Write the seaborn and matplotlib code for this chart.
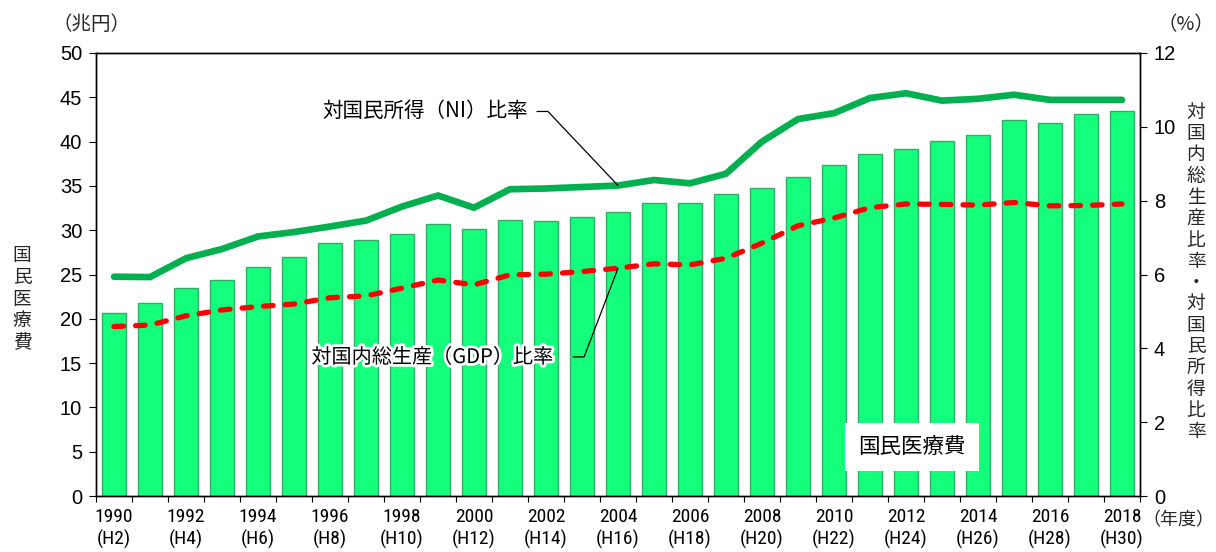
import numpy as np
import pandas as pd
import matplotlib
matplotlib.use("Agg")
import matplotlib.pyplot as plt
import seaborn as sns
from matplotlib import font_manager
import matplotlib.patheffects as pe

# ---------------- data ----------------
years = list(range(1990, 2019))
heisei = [f"(H{y - 1988})" for y in years]
medical_cost = [20.6, 21.8, 23.5, 24.4, 25.8, 27.0, 28.5, 28.9, 29.6, 30.7,
                30.1, 31.1, 31.0, 31.5, 32.1, 33.1, 33.1, 34.1, 34.8, 36.0,
                37.4, 38.6, 39.2, 40.1, 40.8, 42.4, 42.1, 43.1, 43.4]
ni_ratio = [5.94, 5.93, 6.44, 6.69, 7.03, 7.15, 7.30, 7.46, 7.84, 8.14,
            7.81, 8.31, 8.33, 8.37, 8.41, 8.56, 8.47, 8.73, 9.60, 10.21,
            10.37, 10.78, 10.91, 10.71, 10.76, 10.87, 10.73, 10.73, 10.73]
gdp_ratio = [4.59, 4.63, 4.88, 5.04, 5.13, 5.20, 5.37, 5.42, 5.63, 5.85,
             5.72, 5.99, 6.01, 6.08, 6.17, 6.29, 6.26, 6.44, 6.85, 7.32,
             7.53, 7.81, 7.91, 7.90, 7.88, 7.95, 7.86, 7.87, 7.91]
label_year = 2004  # year the leader lines point to

df = pd.DataFrame({"idx": np.arange(len(years)), "year": years,
                   "cost": medical_cost, "ni": ni_ratio, "gdp": gdp_ratio})

# ---------------- style ----------------
sns.set_theme(style="white")
installed = {f.name for f in font_manager.fontManager.ttflist}
JP = "Noto Sans CJK JP"
narrow_candidates = ["Liberation Sans Narrow", "Roboto Condensed", "Open Sans Condensed",
                     "Noto Sans Condensed", "DejaVu Sans Condensed"]
NARROW = next((f for f in narrow_candidates if f in installed), None)
REG = "Liberation Sans" if "Liberation Sans" in installed else "DejaVu Sans"
if NARROW is None:
    NARROW, XSIZE = REG, 13
else:
    XSIZE = 14
plt.rcParams["font.family"] = [JP, "DejaVu Sans"]
plt.rcParams["axes.edgecolor"] = "black"
plt.rcParams["axes.linewidth"] = 1.0

W, H = 1216, 552
fig = plt.figure(figsize=(W / 100, H / 100), dpi=100)
L, R, T, B = 96, 1140, 53, 496
ax = fig.add_axes([L / W, 1 - B / H, (R - L) / W, (B - T) / H])
ax2 = ax.twinx()

BAR_FILL = "#14FF7C"
BAR_EDGE = "#2EAF68"
sns.barplot(data=df, x="idx", y="cost", ax=ax, color=BAR_FILL, saturation=1,
            edgecolor=BAR_EDGE, linewidth=1.0, width=0.68, errorbar=None)

sns.lineplot(data=df, x="idx", y="ni", ax=ax2, color="#00B050", linewidth=4.8,
             solid_capstyle="round", solid_joinstyle="miter", zorder=3)
sns.lineplot(data=df, x="idx", y="gdp", ax=ax2, color="#FF0000", linewidth=3.8,
             linestyle=(0, (1.8, 2.3)), dash_capstyle="round", zorder=3)

n = len(years)
ax.set_xlim(-0.5, n - 0.5)
ax2.set_xlim(-0.5, n - 0.5)
ax.set_ylim(0, 50)
ax2.set_ylim(0, 12)
ax.set_yticks(np.arange(0, 51, 5))
ax2.set_yticks(np.arange(0, 13, 2))
ax.set_xlabel("")
ax.set_ylabel("")
ax2.set_ylabel("")

# x ticks: labels every 2 years at bar centres, tick marks between bars
major = list(range(0, n, 2))
ax.set_xticks(major)
ax.set_xticklabels([f"{years[i]}\n{heisei[i]}" for i in major],
                   fontfamily=NARROW, fontsize=XSIZE, linespacing=1.28)
ax.set_xticks(np.arange(-0.5, n, 1), minor=True)
ax.tick_params(axis="x", which="major", length=0, pad=8.5, colors="black")
ax.tick_params(axis="x", which="minor", length=4, width=0.8, direction="out",
               color="black", bottom=True)
ax.tick_params(axis="y", which="major", length=5, width=0.8, direction="out",
               pad=5, labelsize=14.5, colors="black", left=True)
ax2.tick_params(axis="y", which="major", length=5, width=0.8, direction="out",
                pad=5, labelsize=14.5, colors="black", right=True)
for lab in ax.get_yticklabels() + ax2.get_yticklabels():
    lab.set_fontfamily(REG)
for a in (ax, ax2):
    for s in a.spines.values():
        s.set_visible(True)
        s.set_color("black")
        s.set_linewidth(1.0)
ax.grid(False)
ax2.grid(False)

# ---------------- annotations ----------------
k = years.index(label_year)
ax2.text(0.414, 0.870, "対国民所得（NI）比率", transform=ax2.transAxes,
         ha="right", va="center", fontsize=14.8, color="black")
ax2.annotate("", xy=(k, ni_ratio[k]), xycoords="data",
             xytext=(0.4224, 0.868), textcoords="axes fraction",
             arrowprops=dict(arrowstyle="-", color="black", lw=0.9,
                             shrinkA=0, shrinkB=0,
                             connectionstyle="angle,angleA=0,angleB=133.4,rad=0"))

ax2.text(0.4377, 0.3125, "対国内総生産（GDP）比率", transform=ax2.transAxes,
         ha="right", va="center", fontsize=14.5, color="black",
         path_effects=[pe.withStroke(linewidth=4, foreground="white")])
ax2.annotate("", xy=(k, gdp_ratio[k]), xycoords="data",
             xytext=(0.457, 0.314), textcoords="axes fraction",
             arrowprops=dict(arrowstyle="-", color="black", lw=0.9,
                             shrinkA=0, shrinkB=0,
                             connectionstyle="angle,angleA=0,angleB=69.1,rad=0"))

ax2.text(0.7816, 0.1106, "国民医療費", transform=ax2.transAxes,
         ha="center", va="center", fontsize=15.5, color="black", zorder=5,
         bbox=dict(boxstyle="square,pad=0.62", fc="white", ec="none"))

# axis titles / units
fig.text(91 / W, 1 - 25 / H, "（兆円）", ha="center", va="center", fontsize=14)
fig.text(1186 / W, 1 - 25 / H, "（%）", ha="center", va="center", fontsize=14)
fig.text(1214 / W, 1 - 520 / H, "（年度）", ha="right", va="center", fontsize=13)
fig.text(22 / W, 1 - 299 / H, "\n".join("国民医療費"), ha="center", va="center",
         fontsize=13.5, linespacing=1.05)
fig.text(1196 / W, 1 - 272 / H, "\n".join("対国内総生産比率・対国民所得比率"),
         ha="center", va="center", fontsize=13.5, linespacing=1.02)

fig.savefig("out.png", dpi=100)
